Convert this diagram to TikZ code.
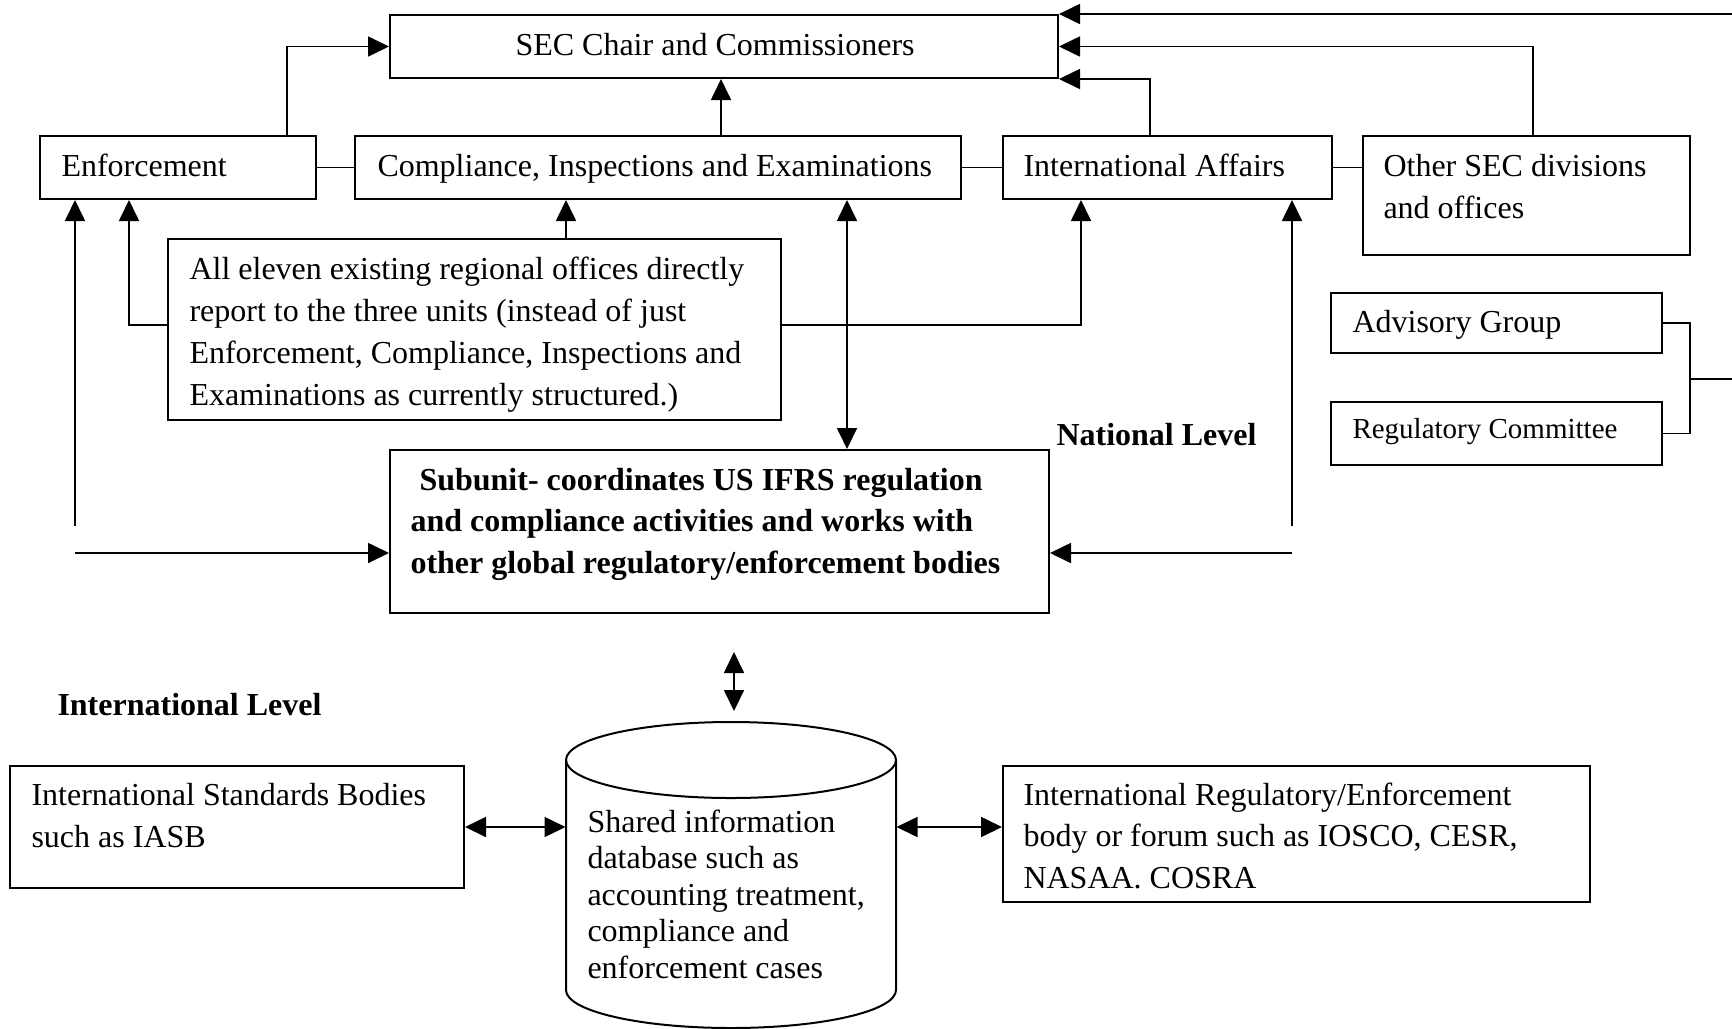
\documentclass[tikz,border=0pt]{standalone}
\usepackage{fontspec}
\setmainfont{Liberation Serif}
\usetikzlibrary{arrows.meta,fit,calc}
\begin{document}
\begin{tikzpicture}[x=0.4pt,y=-0.4pt,
  box/.style={draw,line width=0.8pt,inner sep=0pt},
  txt/.style={anchor=base west,inner sep=0pt,align=left,font=\fontsize{12.8}{16.7}\selectfont},
  btxt/.style={anchor=base west,inner sep=0pt,align=left,font=\fontsize{12.8}{16.6}\selectfont\bfseries},
  ln/.style={line width=0.7pt},
  arr/.style={ln,-{Triangle[length=8.4pt,width=8pt]}},
  darr/.style={ln,{Triangle[length=8.4pt,width=8pt]}-{Triangle[length=8.4pt,width=8pt]}},
]
\useasboundingbox (0,0) rectangle (1732,1028);

% boxes
\node[box,fit={(390,15) (1058,78)}] (sec) {};
\node[box,fit={(40,136) (316,199)}] (enf) {};
\node[box,fit={(355,136) (961,199)}] (cie) {};
\node[box,fit={(1003,136) (1332,199)}] (ia) {};
\node[box,fit={(1363,136) (1690,255)}] (oth) {};
\node[box,fit={(168,239) (781,420)}] (reg) {};
\node[box,fit={(390,450) (1049,613)}] (sub) {};
\node[box,fit={(1331,293) (1662,353)}] (ag) {};
\node[box,fit={(1331,402) (1662,465)}] (rc) {};
\node[box,fit={(10,766) (464,888)}] (isb) {};
\node[box,fit={(1003,766) (1590,902)}] (ire) {};

% cylinder
\draw[line width=0.8pt] (731,760) ellipse [x radius=66pt, y radius=15.2pt];
\draw[line width=0.8pt] (566,760) -- (566,990) arc[start angle=180,end angle=360,x radius=66pt,y radius=15.2pt] -- (896,760);
\node[inner sep=0pt,fit={(566,722) (896,1028)}] (cyl) {};

% texts (base = baseline of last line)
\node[txt] (tsec) at (515,55) {SEC Chair and Commissioners};
\node[txt] (tenf) at (61,176) {Enforcement};
\node[txt] (tcie) at (377,176) {Compliance, Inspections and Examinations};
\node[txt] (tia) at (1023,176) {International Affairs};
\node[txt,font=\fontsize{12.8}{16.8}\selectfont] (toth) at (1383,218) {Other SEC divisions\\and offices};
\node[txt] (treg) at (189,405) {All eleven existing regional offices directly\\report to the three units (instead of just\\Enforcement, Compliance, Inspections and\\Examinations as currently structured.)};
\node[btxt] (tsub) at (410,573) {\hspace*{3.6pt}Subunit- coordinates US IFRS regulation\\and compliance activities and works with\\other global regulatory/enforcement bodies};
\node[btxt] (tnat) at (1056,445) {National Level};
\node[txt] (tag) at (1352,332) {Advisory Group};
\node[txt,font=\fontsize{11.6}{14}\selectfont] (trc) at (1352,438) {Regulatory Committee};
\node[btxt] (tint) at (57,715) {International Level};
\node[txt,font=\fontsize{12.8}{16.8}\selectfont] (tisb) at (31,847) {International Standards Bodies\\such as IASB};
\node[txt,font=\fontsize{12.8}{14.6}\selectfont] (tcyl) at (587,978) {Shared information\\database such as\\accounting treatment,\\compliance and\\enforcement cases};
\node[txt,font=\fontsize{12.8}{16.6}\selectfont] (tire) at (1023,888) {International Regulatory/Enforcement\\body or forum such as IOSCO, CESR,\\NASAA. COSRA};

% connectors to SEC
\coordinate (kA) at (287,0);
\draw[arr] (enf.north -| kA) |- (sec.west);
\coordinate (kB) at (721,0);
\draw[arr] (cie.north -| kB) -- (sec.south -| kB);
\coordinate (kC) at (1150,0);
\draw[arr] (ia.north -| kC) |- (sec.south east);
\coordinate (kD) at (1533,0);
\draw[arr] (oth.north -| kD) |- (sec.east);
\coordinate (rtop) at (1732,0);
\draw[arr] (rtop |- sec.north east) -- (sec.north east);

% horizontal links
\draw[ln] (enf.east) -- (cie.west);
\draw[ln] (cie.east) -- (ia.west);
\draw[ln] (ia.east) -- (oth.west |- ia.east);

% regional offices
\coordinate (kE) at (566,0);
\draw[arr] (reg.north -| kE) -- (cie.south -| kE);
\coordinate (kF) at (129,325);
\draw[arr] (reg.west |- kF) -| (enf.south -| kF);
\coordinate (kG) at (1081,325);
\draw[arr] (reg.east |- kG) -| (ia.south -| kG);
\coordinate (kH) at (847,0);
\draw[darr] (cie.south -| kH) -- (sub.north -| kH);

% side lines
\coordinate (kL1) at (75,526);
\draw[arr] (kL1) -- (enf.south -| kL1);
\coordinate (kL2) at (75,553);
\draw[arr] (kL2) -- (sub.west |- kL2);
\coordinate (kR1) at (1292,526);
\draw[arr] (kR1) -- (ia.south -| kR1);
\coordinate (kR2) at (1292,553);
\draw[arr] (kR2) -- (sub.east |- kR2);

% vertical double arrow
\coordinate (kV1) at (734,652);
\coordinate (kV2) at (734,711);
\draw[darr] (kV1) -- (kV2);

% international level
\draw[darr] (isb.east) -- (cyl.west |- isb.east);
\draw[darr] (cyl.east |- isb.east) -- (ire.west |- isb.east);

% bracket
\coordinate (kB1) at (1690,379);
\coordinate (rmid) at (1732,379);
\draw[ln] (ag.east) -| (kB1) |- (rc.east);
\draw[ln] (kB1) -- (rmid);
\end{tikzpicture}
\end{document}
